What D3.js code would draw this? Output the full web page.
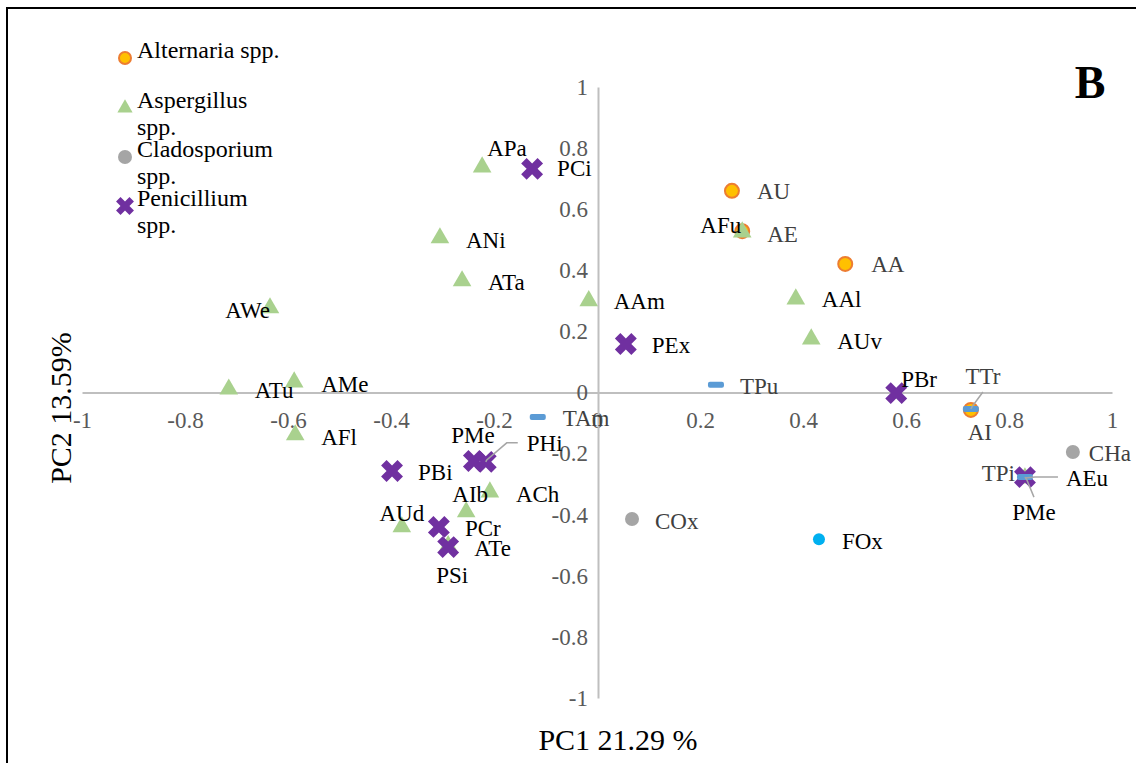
<!DOCTYPE html>
<html>
<head>
<meta charset="utf-8">
<script src="https://cdnjs.cloudflare.com/ajax/libs/d3/7.8.5/d3.min.js"></script>
<style>
  body { margin: 0; background: #fff; }
  svg { font-family: "Liberation Serif", "Times New Roman", serif; }
</style>
</head>
<body>
<script>
// PCA scores: [label, PC1, PC2]
const alternaria = [
  ["AU", 0.262, 0.660], ["AE", 0.282, 0.528], ["AA", 0.482, 0.421], ["AI", 0.726, -0.057]
];
const aspergillus = [
  ["APa", -0.223, 0.738], ["ANi", -0.305, 0.506], ["ATa", -0.262, 0.365], ["AAm", -0.016, 0.300],
  ["AWe", -0.635, 0.277], ["ATu", -0.715, 0.011], ["AMe", -0.588, 0.034], ["AFl", -0.586, -0.139],
  ["AFu", 0.282, 0.525], ["AAl", 0.386, 0.306], ["AUv", 0.416, 0.175], ["ACh", -0.208, -0.326],
  ["AIb", -0.254, -0.391], ["AUd", -0.379, -0.440], ["ATe", -0.289, -0.502], ["AEu", 0.831, -0.280]
];
const cladosporium = [["CHa", 0.924, -0.195], ["COx", 0.068, -0.414]];
const penicillium = [
  ["PCi", -0.126, 0.732], ["PEx", 0.056, 0.159], ["PBr", 0.581, -0.002], ["PMe", -0.239, -0.224],
  ["PHi", -0.216, -0.227], ["PBi", -0.398, -0.257], ["PCr", -0.307, -0.440], ["PSi", -0.289, -0.506],
  ["PMe2", 0.831, -0.277]
];
const trichoderma = [["TAm", -0.115, -0.080], ["TPu", 0.231, 0.025], ["TTr", 0.726, -0.054], ["TPi", 0.831, -0.277]];
const fusarium = [["FOx", 0.431, -0.480]];

const ticks = [-1, -0.8, -0.6, -0.4, -0.2, 0, 0.2, 0.4, 0.6, 0.8, 1];
const legendNames = [["Alternaria spp."], ["Aspergillus", "spp."], ["Cladosporium", "spp."], ["Penicillium", "spp."]];

// label placement: [dx, dy, anchor, leader bend points (optional)]
const labelPos = {
  AU: [25, 1], AE: [25, 3], AA: [26, 1], AI: [9, 22, "middle"],
  APa: [5, -19], ANi: [26, 2], ATa: [26, 1], AAm: [25, 1], AWe: [0, 3, "end"],
  ATu: [26, 1], AMe: [27, 2], AFl: [26, 2], AFu: [-1, -7, "end"], AAl: [26, 0], AUv: [26, 2],
  ACh: [26, 2], AIb: [4, -18, "middle"], AUd: [0, -14, "middle"], ATe: [26, 3],
  AEu: [41, 0, "start", [[10, -1], [33, -1]]],
  CHa: [16, 1], COx: [23, 2],
  PCi: [25, 0], PEx: [26, 1], PBr: [5, -14], PMe: [-1, -26, "middle"],
  PHi: [41, -18, "start", [[1, -2], [21, -19], [32, -19]]],
  PBi: [26, 1], PCr: [26, 1], PSi: [4, 28, "middle"],
  PMe2: [9, 35, "middle", [[2, 3], [9, 20]]],
  TAm: [25, 1], TPu: [24, 2], TTr: [12, -33, "middle", [[1, -2], [12, -17]]], TPi: [-10, -4, "end"],
  FOx: [23, 2]
};

const W = 1136, H = 763;
const svg = d3.select("body").append("svg").attr("width", W).attr("height", H);

svg.append("rect").attr("x", 7).attr("y", 8).attr("width", 1140).attr("height", 770)
  .attr("fill", "#fff").attr("stroke", "#000").attr("stroke-width", 2);

const x = d3.scaleLinear().domain([-1, 1]).range([82, 1112]);
const y = d3.scaleLinear().domain([-1, 1]).range([698, 87]);
const fmt = d => String(Math.round(d * 10) / 10);

const xAxis = svg.append("g").attr("transform", "translate(0," + y(0) + ")")
  .call(d3.axisBottom(x).tickValues(ticks).tickFormat(fmt).tickSize(0).tickPadding(19));
const yAxis = svg.append("g").attr("transform", "translate(" + (x(0) + 1) + ",0)")
  .call(d3.axisLeft(y).tickValues(ticks).tickFormat(fmt).tickSize(0).tickPadding(10));
[xAxis, yAxis].forEach(g => {
  g.select(".domain").attr("stroke", "#BFBFBF").attr("stroke-width", 2);
  g.selectAll("text").attr("font-family", "Liberation Serif").attr("font-size", 23).attr("fill", "#595959");
});

// markers
const pt = d => "translate(" + x(d[1]) + "," + y(d[2]) + ")";

svg.append("g").selectAll("circle").data(alternaria).enter().append("circle")
  .attr("cx", d => x(d[1])).attr("cy", d => y(d[2])).attr("r", 7)
  .attr("fill", "#FFC000").attr("stroke", "#ED7D31").attr("stroke-width", 2);

svg.append("g").selectAll("path").data(aspergillus).enter().append("path")
  .attr("transform", pt).attr("d", d3.symbol(d3.symbolTriangle, 150)).attr("fill", "#A9D18E");

svg.append("g").selectAll("circle").data(cladosporium).enter().append("circle")
  .attr("cx", d => x(d[1])).attr("cy", d => y(d[2])).attr("r", 7).attr("fill", "#A5A5A5");

svg.append("g").selectAll("path").data(penicillium).enter().append("path")
  .attr("transform", d => pt(d) + " rotate(45)").attr("d", d3.symbol(d3.symbolCross, 300)).attr("fill", "#7030A0");

svg.append("g").selectAll("rect").data(trichoderma).enter().append("rect")
  .attr("x", d => x(d[1]) - 8).attr("y", d => y(d[2]) - 3).attr("width", 16).attr("height", 6).attr("rx", 2)
  .attr("fill", "#5B9BD5");

svg.append("g").selectAll("circle").data(fusarium).enter().append("circle")
  .attr("cx", d => x(d[1])).attr("cy", d => y(d[2])).attr("r", 6).attr("fill", "#00B0F0");

// data labels
const groups = [
  [alternaria, "#404040"], [aspergillus, "#000"], [cladosporium, "#404040"],
  [penicillium, "#000"], [trichoderma, "#404040"], [fusarium, "#000"]
];
const lab = svg.append("g").attr("font-size", 23);
groups.forEach(([data, col]) => {
  data.forEach(d => {
    const p = labelPos[d[0]];
    const px = x(d[1]), py = y(d[2]);
    if (p[3]) {
      lab.append("path")
        .attr("d", d3.line()([[px, py]].concat(p[3].map(q => [px + q[0], py + q[1]]))))
        .attr("fill", "none").attr("stroke", "#A6A6A6").attr("stroke-width", 1.5);
    }
    lab.append("text").attr("x", px + p[0]).attr("y", py + p[1])
      .attr("dy", "0.33em").attr("text-anchor", p[2] || "start").attr("fill", col)
      .text(d[0].replace(/\d$/, ""));
  });
});

// legend
const leg = svg.append("g").attr("transform", "translate(125,0)");
const legY = [58, 108, 157, 206];
leg.append("circle").attr("cx", 0).attr("cy", legY[0]).attr("r", 6)
  .attr("fill", "#FFC000").attr("stroke", "#ED7D31").attr("stroke-width", 2);
leg.append("path").attr("transform", "translate(0," + legY[1] + ")").attr("d", d3.symbol(d3.symbolTriangle, 100)).attr("fill", "#A9D18E");
leg.append("circle").attr("cx", 0).attr("cy", legY[2]).attr("r", 7).attr("fill", "#A5A5A5");
leg.append("path").attr("transform", "translate(0," + legY[3] + ") rotate(45)").attr("d", d3.symbol(d3.symbolCross, 200)).attr("fill", "#7030A0");
legendNames.forEach((lines, i) => {
  const t = leg.append("text").attr("x", 12).attr("y", legY[i]).attr("dy", "0.33em").attr("font-size", 24);
  lines.forEach((s, j) => t.append("tspan").attr("x", 12).attr("dy", j ? 27 : 0).text(s));
});

// titles
svg.append("text").attr("x", 618).attr("y", 750).attr("text-anchor", "middle").attr("font-size", 30).text("PC1 21.29 %");
svg.append("text").attr("transform", "translate(71,408) rotate(-90)").attr("text-anchor", "middle").attr("font-size", 30).text("PC2 13.59%");
svg.append("text").attr("x", 1090).attr("y", 98).attr("text-anchor", "middle").attr("font-size", 46).attr("font-weight", "bold").text("B");
</script>
</body>
</html>
